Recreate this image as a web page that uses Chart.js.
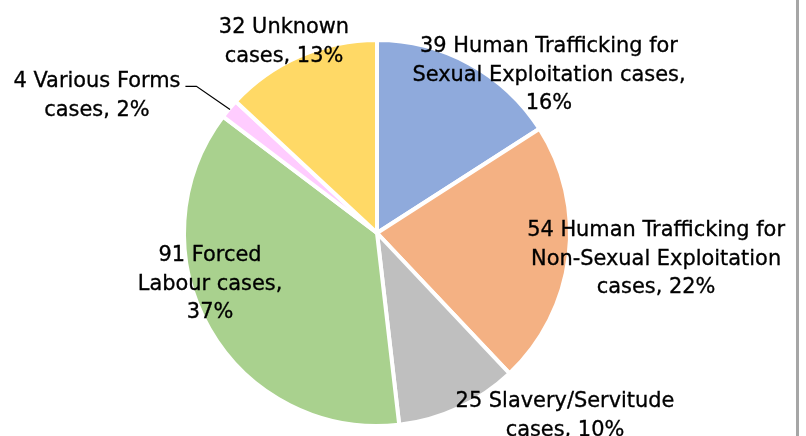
<!DOCTYPE html>
<html><head><meta charset="utf-8">
<script src="https://cdn.jsdelivr.net/npm/chart.js@4.4.1/dist/chart.umd.min.js"></script>
<style>
html,body{margin:0;padding:0;background:#fff;}
#wrap{position:relative;width:806px;height:436px;overflow:hidden;}
#edge{position:absolute;left:796px;top:0;width:3px;height:436px;background:#a6a6a6;}
</style>
</head><body>
<div id="wrap"><canvas id="c" width="806" height="436"></canvas><div id="edge"></div></div>
<script>
const categories = [
  "Human Trafficking for Sexual Exploitation",
  "Human Trafficking for Non-Sexual Exploitation",
  "Slavery/Servitude",
  "Forced Labour",
  "Various Forms",
  "Unknown"
];
const values = [39, 54, 25, 91, 4, 32];
const percents = ["16%", "22%", "10%", "37%", "2%", "13%"];
const labelLines = [
  ["39 Human Trafficking for", "Sexual Exploitation cases,", "16%"],
  ["54 Human Trafficking for", "Non-Sexual Exploitation", "cases, 22%"],
  ["25 Slavery/Servitude", "cases, 10%"],
  ["91 Forced", "Labour cases,", "37%"],
  ["4 Various Forms", "cases, 2%"],
  ["32 Unknown", "cases, 13%"]
];
const colors = ["#8FAADC", "#F4B183", "#BFBFBF", "#A9D18E", "#FFCCFF", "#FFD966"];
// label block centres, in units of the pie radius from the pie centre
const labelPos = [[0.891,-0.819],[1.446,0.134],[0.974,0.948],[-0.865,0.264],[-1.451,-0.712],[-0.482,-0.99]];
const leaderFor = [false,false,false,false,true,false];

const FONT = '22px "DejaVu Sans"';
const X_SCALE = 0.95;
const LINE_H = 28.5;

const labelPlugin = {
  id: 'pieLabels',
  afterDatasetsDraw(chart) {
    const ctx = chart.ctx;
    const meta = chart.getDatasetMeta(0);
    ctx.save();
    ctx.font = FONT;
    ctx.fillStyle = '#000';
    ctx.strokeStyle = '#000';
    ctx.textAlign = 'center';
    ctx.textBaseline = 'middle';
    meta.data.forEach((arc, i) => {
      const p = arc.getProps(['x','y','outerRadius','startAngle','endAngle'], true);
      const lines = labelLines[i];
      const cx = p.x + labelPos[i][0] * p.outerRadius;
      const cy = p.y + labelPos[i][1] * p.outerRadius;
      const top = cy - (lines.length - 1) * LINE_H / 2;
      lines.forEach((t, j) => {
        ctx.save();
        ctx.translate(cx, top + j * LINE_H);
        ctx.scale(X_SCALE, 1);
        ctx.fillText(t, 0, 0);
        ctx.lineWidth = 0.35;
        ctx.strokeText(t, 0, 0);
        ctx.restore();
      });
      if (leaderFor[i]) {
        const w = ctx.measureText(lines[0]).width * X_SCALE;
        const sx = cx + w / 2 + 5, sy = top + 5;
        const mid = (p.startAngle + p.endAngle) / 2;
        const ex = p.x + Math.cos(mid) * (p.outerRadius - 1);
        const ey = p.y + Math.sin(mid) * (p.outerRadius - 1);
        ctx.beginPath();
        ctx.lineWidth = 1.2;
        ctx.moveTo(sx, sy);
        ctx.lineTo(sx + 11, sy);
        ctx.lineTo(ex, ey);
        ctx.stroke();
      }
    });
    ctx.restore();
  }
};

new Chart(document.getElementById('c'), {
  type: 'pie',
  data: {
    labels: categories,
    datasets: [{
      data: values,
      backgroundColor: colors,
      borderColor: '#ffffff',
      borderWidth: 4,
      hoverOffset: 0
    }]
  },
  options: {
    responsive: false,
    animation: false,
    radius: 193,
    layout: { padding: { left: 0, right: 52, top: 40, bottom: 10 } },
    plugins: { legend: { display: false }, tooltip: { enabled: false } },
    events: []
  },
  plugins: [labelPlugin]
});
</script>
</body></html>
